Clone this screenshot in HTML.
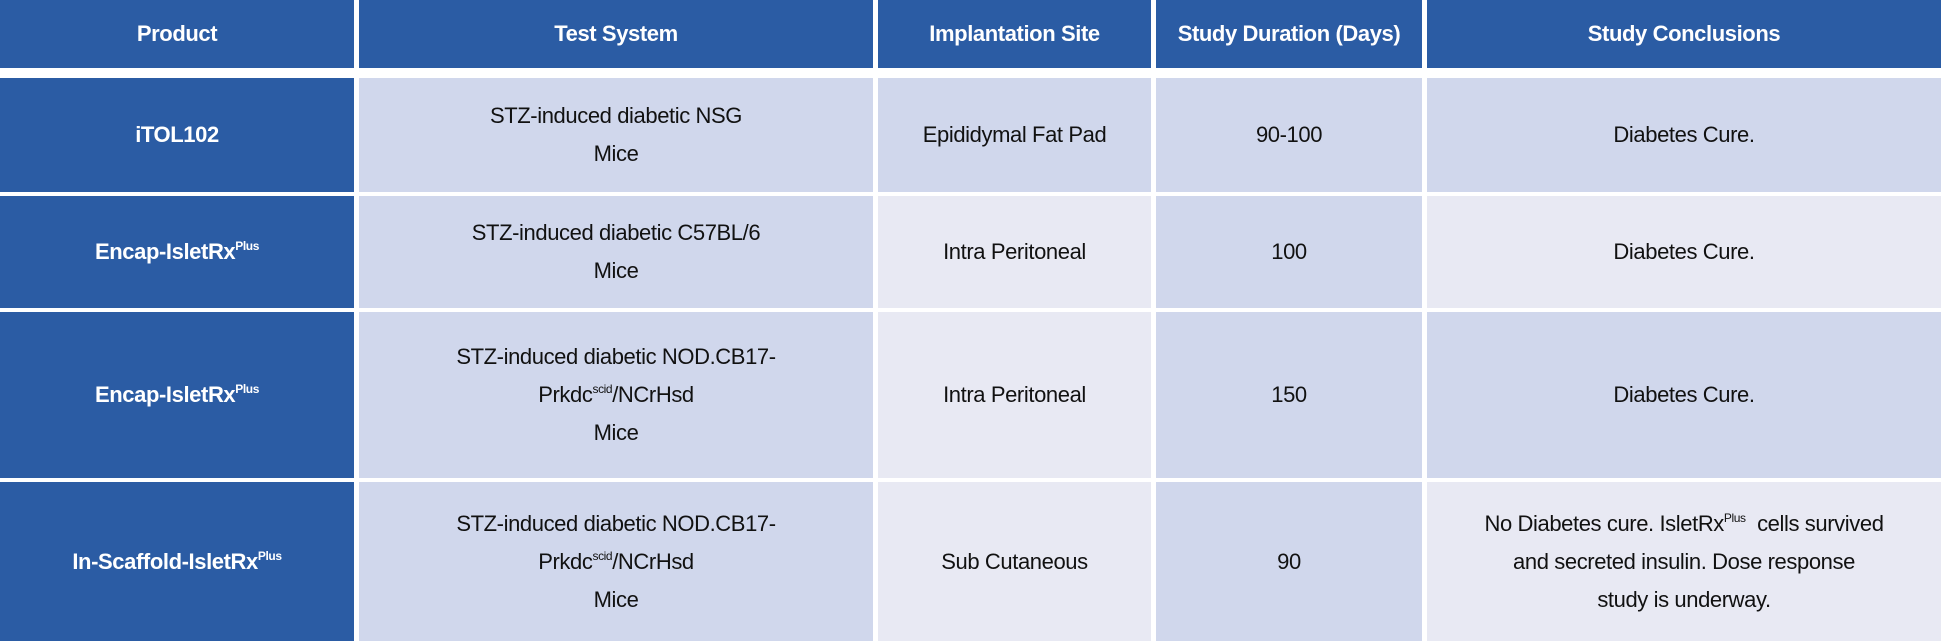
<!DOCTYPE html>
<html><head><meta charset="utf-8">
<style>
html,body{margin:0;padding:0;background:#fff;}
body{width:1941px;height:641px;position:relative;overflow:hidden;font-family:"Liberation Sans Narrow","Liberation Sans",sans-serif;}
.c{position:absolute;display:flex;align-items:center;justify-content:center;text-align:center;box-sizing:border-box;font-size:22px;line-height:38px;color:#111;letter-spacing:-0.4px;}
.c>span{display:block;}
.h{background:#2b5ca4;color:#fff;font-weight:bold;font-size:22px;}
.p{background:#2b5ca4;color:#fff;font-weight:bold;}
.a{background:#d0d7ec;}
.b{background:#e8e9f3;}
sup{font-size:12px;line-height:0;vertical-align:9px;}
</style></head><body>
<div>
<div class="c h" style="left:0;top:0;width:354px;height:68px"><span>Product</span></div>
<div class="c h" style="left:359px;top:0;width:514px;height:68px"><span>Test System</span></div>
<div class="c h" style="left:878px;top:0;width:273px;height:68px"><span>Implantation Site</span></div>
<div class="c h" style="left:1156px;top:0;width:266px;height:68px"><span>Study Duration (Days)</span></div>
<div class="c h" style="left:1427px;top:0;width:514px;height:68px"><span>Study Conclusions</span></div>

<div class="c p" style="left:0;top:78px;width:354px;height:114px"><span>iTOL102</span></div>
<div class="c a" style="left:359px;top:78px;width:514px;height:114px"><span>STZ-induced diabetic NSG<br>Mice</span></div>
<div class="c a" style="left:878px;top:78px;width:273px;height:114px"><span>Epididymal Fat Pad</span></div>
<div class="c a" style="left:1156px;top:78px;width:266px;height:114px"><span>90-100</span></div>
<div class="c a" style="left:1427px;top:78px;width:514px;height:114px"><span>Diabetes Cure.</span></div>

<div class="c p" style="left:0;top:196px;width:354px;height:112px"><span>Encap-IsletRx<sup>Plus</sup></span></div>
<div class="c a" style="left:359px;top:196px;width:514px;height:112px"><span>STZ-induced diabetic C57BL/6<br>Mice</span></div>
<div class="c b" style="left:878px;top:196px;width:273px;height:112px"><span>Intra Peritoneal</span></div>
<div class="c a" style="left:1156px;top:196px;width:266px;height:112px"><span>100</span></div>
<div class="c b" style="left:1427px;top:196px;width:514px;height:112px"><span>Diabetes Cure.</span></div>

<div class="c p" style="left:0;top:312px;width:354px;height:166px"><span>Encap-IsletRx<sup>Plus</sup></span></div>
<div class="c a" style="left:359px;top:312px;width:514px;height:166px"><span>STZ-induced diabetic NOD.CB17-<br>Prkdc<sup>scid</sup>/NCrHsd<br>Mice</span></div>
<div class="c b" style="left:878px;top:312px;width:273px;height:166px"><span>Intra Peritoneal</span></div>
<div class="c a" style="left:1156px;top:312px;width:266px;height:166px"><span>150</span></div>
<div class="c a" style="left:1427px;top:312px;width:514px;height:166px"><span>Diabetes Cure.</span></div>

<div class="c p" style="left:0;top:482px;width:354px;height:159px"><span>In-Scaffold-IsletRx<sup>Plus</sup></span></div>
<div class="c a" style="left:359px;top:482px;width:514px;height:159px"><span>STZ-induced diabetic NOD.CB17-<br>Prkdc<sup>scid</sup>/NCrHsd<br>Mice</span></div>
<div class="c b" style="left:878px;top:482px;width:273px;height:159px"><span>Sub Cutaneous</span></div>
<div class="c a" style="left:1156px;top:482px;width:266px;height:159px"><span>90</span></div>
<div class="c b" style="left:1427px;top:482px;width:514px;height:159px"><span style="white-space:nowrap">No Diabetes cure. IsletRx<sup>Plus</sup>&nbsp; cells survived<br>and secreted insulin. Dose response<br>study is underway.</span></div>
</div>
</body></html>
